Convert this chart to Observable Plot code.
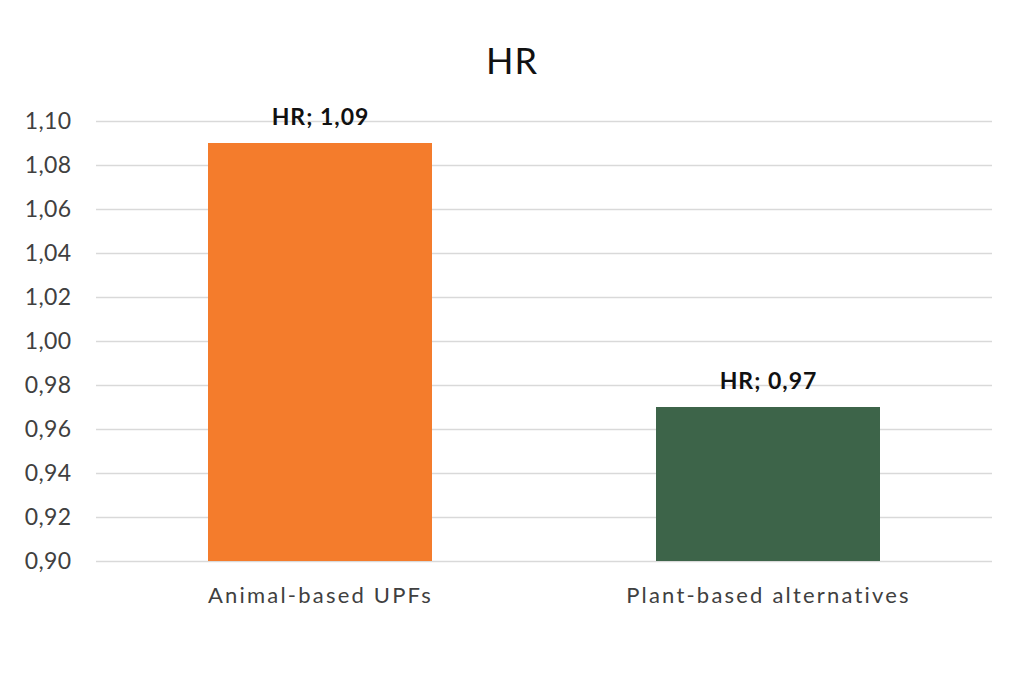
<!DOCTYPE html>
<html>
<head>
<meta charset="utf-8">
<script src="https://cdn.jsdelivr.net/npm/d3@7"></script>
<script src="https://cdn.jsdelivr.net/npm/@observablehq/plot@0.6"></script>
<style>
  html, body { margin: 0; padding: 0; background: #fff; }
  body { width: 1024px; height: 683px; overflow: hidden; font-family: Lato, "Open Sans", sans-serif; }
  #title { height: 100px; box-sizing: border-box; padding-top: 38px; text-align: center; font-size: 36px; color: #111; line-height: 44px; letter-spacing: 1px; }
  #chart svg { display: block; }
  #chart svg text { letter-spacing: 1px; }
  #chart svg g[aria-label="x-axis tick label"] text { letter-spacing: 2.2px; }
  #chart svg g[aria-label="y-axis tick label"] text { letter-spacing: 0.4px; }
</style>
</head>
<body>
<div id="title">HR</div>
<div id="chart"></div>
<script>
const categories = ["Animal-based UPFs", "Plant-based alternatives"];
const values = [1.09, 0.97];
const barColors = ["#F47C2C", "#3D6449"];
const yTicks = [0.90, 0.92, 0.94, 0.96, 0.98, 1.00, 1.02, 1.04, 1.06, 1.08, 1.10];
const yMin = 0.90, yMax = 1.10;

const data = categories.map((c, i) => ({category: c, value: values[i]}));
const fmt = v => v.toFixed(2).replace(".", ",");

const chart = Plot.plot({
  width: 1024,
  height: 583,
  marginTop: 21,
  marginBottom: 122,
  marginLeft: 96,
  marginRight: 32,
  style: {fontFamily: "Lato, 'Open Sans', sans-serif", fontSize: "22px", color: "#404040", background: "#fff"},
  x: {domain: categories, paddingInner: 0.5, paddingOuter: 0.25, label: null},
  y: {domain: [yMin, yMax], label: null},
  color: {domain: categories, range: barColors},
  marks: [
    Plot.ruleY(yTicks, {stroke: "#d9d9d9", strokeWidth: 1.5}),
    Plot.barY(data, {x: "category", y1: () => yMin, y2: "value", fill: "category"}),
    Plot.text(data, {x: "category", y: "value", text: d => "HR; " + fmt(d.value), dy: -26, fontWeight: "bold", fontSize: 23, fill: "#111"}),
    Plot.axisX({tickSize: 0, tickPadding: 26, fontSize: 22, fill: "#404040"}),
    Plot.axisY({ticks: yTicks, tickFormat: fmt, tickSize: 0, tickPadding: 25, fontSize: 23, fill: "#404040"})
  ]
});
document.getElementById("chart").appendChild(chart);
</script>
</body>
</html>
